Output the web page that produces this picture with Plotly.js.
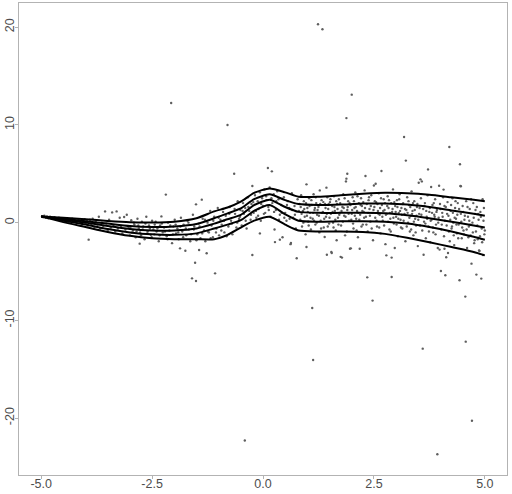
<!DOCTYPE html>
<html>
<head>
<meta charset="utf-8">
<script src="https://cdn.plot.ly/plotly-3.0.1.min.js"></script>
<style>html,body{margin:0;padding:0;background:#fff;}#chart{width:512px;height:494px;}</style>
</head>
<body>
<div id="chart"></div>
<script>
// Scatter points (x, y)
const ptX = [
-4.98,-4.95,-4.93,-4.9,-4.87,-4.84,-4.8,-4.77,-4.73,-4.7,-4.66,-4.63,-4.6,-4.56,-4.52,-4.49,-4.45,-4.42,-4.38,-4.35,-4.3,-4.27,-4.23,-4.2,-4.16,-4.12,-4.08,-4.05,-4.02,-4.0,
-3.97,-3.95,-3.93,-3.9,-3.87,-3.84,-3.8,-3.77,-3.73,-3.7,-3.67,-3.63,-3.6,-3.56,-3.53,-3.5,-3.47,-3.43,-3.4,-3.37,-3.33,-3.3,-3.27,-3.23,-3.2,-3.17,-3.13,-3.1,-3.07,-3.03,-3.0,-2.97,-2.93,-2.9,-2.87,-2.83,-2.8,-2.77,-2.73,-2.7,-2.67,-2.63,-2.6,-2.57,-2.53,-2.5,-2.47,-2.78,
-2.45,-2.42,-2.38,-2.35,-2.32,-2.29,-2.26,-2.23,-2.19,-2.17,-2.14,-2.11,-2.07,-2.05,-2.02,-1.99,-1.96,-1.93,-1.9,-1.87,-1.85,-1.82,-1.79,-1.75,-1.73,-1.7,-1.67,-1.64,-1.6,-1.58,-1.55,-1.53,-1.51,-1.51,-1.48,-1.45,-1.44,-1.41,-1.38,-1.36,-1.33,-1.3,-1.27,-1.25,-1.22,-1.19,-1.16,-1.13,-1.1,-1.08,-1.05,-1.02,-0.99,-0.96,-0.93,-0.9,-0.87,-0.84,-0.8,-0.78,-0.75,-0.72,-0.69,-0.65,-0.63,-0.6,-0.57,-0.54,-0.51,
-0.48,-0.45,-0.43,-0.41,-0.4,-0.37,-0.34,-0.31,-0.28,-0.26,-0.24,-0.24,-0.21,-0.18,-0.15,-0.12,-0.1,-0.07,-0.05,-0.02,0.0,0.03,0.05,0.08,0.11,0.12,0.15,0.17,0.2,0.21,0.24,0.26,0.29,0.32,0.35,0.38,0.41,0.44,0.47,0.5,0.53,0.56,0.59,0.62,0.65,0.68,0.71,0.74,0.76,0.78,
-0.07,0.27,0.38,0.63,0.98,
0.82,0.84,0.86,0.88,0.9,0.92,0.94,0.96,0.98,1.0,1.02,1.04,1.06,1.08,1.1,1.11,1.12,1.13,1.14,1.16,1.18,1.2,1.22,1.24,1.25,1.27,1.28,1.3,1.32,1.34,1.35,1.37,1.39,1.4,1.42,1.43,1.44,1.45,1.47,1.49,1.51,1.53,1.54,1.55,1.56,1.58,1.6,1.62,1.64,1.66,1.67,1.69,1.71,1.73,1.75,1.76,1.78,1.79,1.81,1.83,1.85,1.87,1.88,1.88,1.9,1.9,1.92,1.94,1.96,1.97,1.98,2.0,2.0,2.02,2.04,2.06,2.08,2.1,2.12,2.14,2.16,2.18,2.19,2.21,2.23,2.25,2.27,2.29,2.31,2.32,2.34,2.35,2.36,2.38,2.4,2.42,2.44,2.46,2.47,2.48,2.5,2.51,2.53,2.54,2.55,2.57,2.59,2.61,2.63,2.65,2.67,2.68,2.7,2.72,2.74,2.76,2.78,2.79,2.81,2.83,2.85,2.87,2.89,2.9,2.9,2.91,2.93,2.95,2.97,2.98,3.0,3.02,3.04,3.06,3.08,3.1,3.12,3.14,3.16,3.18,3.19,3.21,3.22,3.23,3.25,3.27,3.29,3.31,3.33,3.35,3.37,3.39,3.41,3.43,3.45,3.47,3.49,3.51,3.52,3.55,3.56,3.58,3.59,3.6,3.61,3.62,3.63,3.65,3.67,3.69,3.71,3.72,3.73,3.75,3.77,3.79,3.8,3.82,3.84,3.86,3.88,3.9,3.92,3.93,3.94,3.96,3.97,3.98,3.99,4.01,4.02,4.04,4.06,4.07,4.08,4.09,4.1,4.11,4.12,4.13,4.14,4.16,4.17,4.18,4.2,4.21,4.23,4.25,4.27,4.29,4.31,4.33,4.35,4.37,4.39,4.41,4.43,4.44,4.45,4.46,4.46,4.48,4.5,4.52,4.54,4.56,4.57,4.58,4.6,4.62,4.64,4.66,4.68,4.7,4.71,4.72,4.74,4.76,4.78,4.8,4.81,4.82,4.84,4.86,4.87,4.88,4.9,4.92,4.93,4.95,4.96,4.97,4.99
];
const ptY = [
0.62,0.55,0.7,0.5,0.63,0.45,0.6,0.52,0.38,0.55,0.42,0.3,0.5,0.36,0.25,0.45,0.18,0.35,0.1,0.28,0.4,0.05,0.2,-0.05,0.3,0.1,-0.2,0.15,0.35,-0.1,
0.2,-0.3,-1.74,0.3,-0.15,0.4,-0.45,0.1,-0.2,0.6,-0.6,0.0,-0.35,1.15,-0.1,-0.8,0.3,-0.5,1.05,-0.25,-0.9,1.15,-0.6,0.5,-0.35,-1.1,0.57,-0.7,0.8,-0.45,-1.3,0.25,-0.8,-0.2,-1.5,0.4,-0.6,-1.0,0.1,-0.4,-1.7,0.6,-0.9,-0.3,-1.25,0.2,-0.7,-2.15,
-1.2,0.1,-0.6,-1.9,-0.3,0.64,-1.0,-0.5,2.87,-1.4,0.0,-0.8,12.25,-2.1,-0.4,0.3,-1.1,-0.6,-1.7,-2.63,0.5,-0.9,-0.2,-2.87,-1.3,0.2,-0.7,-1.9,-5.7,0.8,-0.4,-4.1,1.87,-5.98,-1.2,-0.1,-2.8,-1.6,2.35,0.4,-0.8,-1.9,-3.14,0.0,-1.0,1.2,-0.3,-1.5,0.6,-5.19,-0.6,1.5,-1.3,0.3,-0.2,1.1,-1.0,0.7,9.99,-0.4,1.6,0.2,-1.2,5.0,0.9,-0.5,2.2,0.4,1.3,
-0.3,2.0,0.9,-22.3,1.5,-0.6,2.6,1.2,0.3,1.9,3.75,-3.32,1.0,2.8,0.5,2.2,1.4,3.1,0.2,2.5,1.7,3.4,1.0,2.3,5.59,1.6,3.6,0.6,5.25,2.0,2.9,-0.7,1.3,3.2,2.4,0.8,1.8,-1.5,2.6,1.0,0.2,2.2,1.5,-2.2,3.0,0.5,1.7,-0.6,-3.65,2.4,
-1.1,-1.99,-1.74,-2.09,-2.5,
1.9,0.3,2.8,-0.4,1.2,2.2,0.6,-1.2,3.92,1.5,0.1,2.5,1.0,-0.7,1.8,-8.74,0.4,-14.06,2.9,1.3,-0.2,2.0,0.8,20.3,1.6,-1.0,3.3,0.2,2.3,19.8,1.1,-0.5,-1.47,1.9,0.6,3.58,-3.28,2.6,1.4,-0.1,2.1,0.9,-3.0,-3.11,1.7,0.0,2.7,1.2,-0.8,-1.81,1.9,0.5,2.4,1.0,-3.5,-0.3,-3.58,1.6,2.9,0.7,-1.3,4.22,4.5,10.7,5.0,1.3,2.2,0.2,-2.67,1.8,-2.63,13.1,0.9,2.6,-0.6,1.5,3.1,0.4,1.2,-1.5,2.0,-2.67,0.8,2.5,1.7,-0.2,1.1,3.3,4.77,0.6,1.9,-5.6,-0.9,2.3,1.4,0.1,2.8,1.0,-7.98,-1.8,3.8,1.6,0.5,3.98,2.1,-0.4,1.2,3.0,0.8,-1.1,5.28,1.8,0.2,2.4,1.3,-2.2,-3.35,0.9,2.7,1.5,-0.7,0.4,2.0,-3.58,-5.57,1.1,3.4,-0.1,-2.6,1.7,0.6,2.3,-1.4,1.0,2.9,0.3,1.5,-0.6,2.0,8.76,0.9,-1.9,6.35,1.3,2.6,0.0,1.8,-0.9,0.7,3.2,1.2,-1.3,2.2,0.4,-0.3,1.6,-2.4,4.08,0.9,4.43,2.5,4.22,-0.8,-12.9,1.4,-3.28,0.1,2.0,-1.6,0.6,2.8,5.45,-0.4,1.1,-2.0,3.64,0.3,1.8,-1.0,0.8,2.4,-0.2,1.3,-23.7,-2.6,0.5,3.78,-2.76,1.9,-4.95,-0.7,1.0,2.6,3.38,-1.4,-2.67,0.2,-5.39,1.6,-3.55,-0.3,2.1,-3.11,0.7,7.74,-1.9,1.2,-0.6,2.5,0.0,-2.3,1.5,0.4,-1.1,2.0,-0.2,-5.9,5.97,3.75,0.9,3.72,-1.6,1.7,-0.8,0.3,-7.57,-12.18,2.2,-2.6,0.6,-0.4,1.4,-1.3,-4.2,-20.27,0.0,2.0,-2.1,0.9,-0.9,-5.32,1.6,-1.7,0.3,-2.84,-2.9,1.1,-5.73,-0.6,2.4,-3.32,0.2,-1.2
];
// Additional points inside the dense band
const bandX = [
-2.99,-2.95,-2.91,-2.85,-2.81,-2.75,-2.71,-2.65,-2.61,-2.55,-2.51,-2.44,-2.4,-2.33,-2.28,-2.21,-2.15,-2.09,-2.03,-1.97,-1.91,-1.86,-1.8,-1.74,-1.68,-1.62,-1.56,-1.5,-1.43,-1.37,-1.31,-1.24,-1.18,-1.12,-1.06,-1.0,-0.94,-0.88,-0.82,-0.76,-0.7,-0.64,-0.58,-0.52,-0.46,-0.39,-0.33,-0.27,-0.22,-0.16,-0.11,-0.04,0.02,0.07,0.13,0.19,0.25,0.3,0.36,0.42,0.48,0.54,0.6,0.66,0.72,
0.81,0.85,0.87,0.91,0.93,0.97,0.99,1.01,1.03,1.05,1.07,1.09,1.13,1.15,1.17,1.19,1.21,1.23,1.26,1.29,1.31,1.33,1.36,1.38,1.41,1.44,1.46,1.48,1.5,1.52,1.57,1.59,1.61,1.63,1.65,1.68,1.7,1.72,1.74,1.77,1.8,1.82,1.84,1.86,1.89,1.91,1.93,1.95,1.99,2.01,2.03,2.05,2.07,2.09,2.11,2.13,2.15,2.17,2.2,2.22,2.24,2.26,2.28,2.3,2.33,2.37,2.39,2.41,2.43,2.45,2.49,2.52,2.56,2.58,2.6,2.62,2.64,2.66,2.69,2.71,2.73,2.75,2.77,2.8,2.82,2.84,2.86,2.88,2.92,2.94,2.96,2.99,3.01,3.03,3.05,3.07,3.09,3.11,3.13,3.15,3.17,3.2,3.24,3.26,3.28,3.3,3.32,3.34,3.36,3.38,3.4,3.42,3.44,3.46,3.48,3.5,3.53,3.54,3.57,3.64,3.66,3.68,3.7,3.74,3.76,3.78,3.81,3.83,3.85,3.87,3.89,3.91,3.95,4.0,4.03,4.05,4.09,4.15,4.19,4.22,4.24,4.26,4.28,4.3,4.32,4.34,4.36,4.38,4.4,4.42,4.47,4.49,4.51,4.53,4.55,4.59,4.61,4.63,4.65,4.67,4.69,4.73,4.75,4.77,4.79,4.83,4.85,4.89,4.91,4.94,4.98,5.0
];
const bandY = [
-0.5,-1.0,0.0,-0.9,-0.3,-1.3,-0.7,-0.1,-1.1,-0.6,-1.5,-0.2,-0.9,-1.3,-0.1,-0.9,-1.7,-0.3,-1.2,-0.2,-1.0,-0.4,-1.5,-0.6,0.0,-1.2,-0.7,-1.8,-0.4,-1.1,0.3,-0.9,-1.6,0.2,-1.0,0.5,-0.8,0.2,-1.4,0.9,-0.1,1.4,0.0,0.6,1.2,0.2,1.6,0.8,2.1,1.2,0.7,1.9,0.9,2.7,1.3,2.5,1.1,2.2,0.3,1.0,0.5,1.8,0.4,1.3,0.8,
1.2,1.6,0.9,0.0,1.4,2.0,0.7,1.1,-0.3,1.7,0.5,2.3,1.0,0.2,1.5,2.6,0.0,1.3,0.7,1.9,-0.6,1.0,2.1,0.4,1.5,0.9,-0.4,1.9,0.5,2.4,1.1,-0.5,1.6,0.3,2.2,1.4,-0.2,0.8,2.0,1.2,0.1,1.5,2.5,0.6,-0.9,1.6,0.9,2.0,0.3,1.3,-0.1,2.2,0.7,1.6,-0.8,2.7,1.0,0.3,1.8,-0.4,1.2,2.1,0.5,1.5,-0.2,1.0,2.6,0.7,1.7,-0.6,1.3,2.2,0.2,1.9,0.9,-0.5,1.5,2.5,0.6,1.2,-0.3,2.0,0.8,1.7,0.1,2.3,1.0,-0.9,1.4,0.5,2.1,1.1,-0.2,1.6,0.4,2.4,1.2,-0.5,0.8,1.9,0.2,1.4,-0.4,1.0,2.2,0.5,1.6,-0.7,0.9,2.0,0.1,1.3,-1.0,0.7,1.9,0.3,1.5,-0.3,0.8,1.7,-0.1,1.2,0.4,-0.9,1.5,0.2,1.0,-0.5,2.0,0.6,-1.2,1.1,0.0,1.4,-0.2,0.6,1.7,0.9,-0.9,0.3,1.8,-0.4,1.0,-1.3,0.5,2.2,-0.2,0.8,-1.6,1.4,0.1,-0.5,1.1,-1.2,0.7,-0.7,1.6,-1.5,0.2,-0.2,2.4,-1.0,0.5,-1.8,1.3,-0.3,0.9,-1.4,0.6,-2.0,1.5,-0.8
];
// Quantile curves
const curveX = [-5,-4.5,-4,-3.5,-3,-2.5,-2,-1.5,-1.1,-0.8,-0.5,-0.2,0.15,0.5,0.8,1.25,1.75,2.25,2.75,3.25,3.75,4.25,4.75,5];
const q1 = [0.64,0.5,0.35,0.18,0.05,0.02,0.1,0.45,1.15,1.55,2.15,3.05,3.5,3.1,2.65,2.65,2.8,2.95,3.05,3.0,2.85,2.6,2.35,2.2];
const q2 = [0.64,0.4,0.15,-0.1,-0.35,-0.45,-0.4,-0.15,0.45,0.95,1.45,2.4,2.9,2.3,1.9,1.8,1.85,1.95,1.95,1.85,1.6,1.25,0.9,0.7];
const q3 = [0.64,0.3,0.0,-0.35,-0.65,-0.8,-0.8,-0.6,-0.1,0.35,0.8,1.8,2.35,1.6,1.1,1.0,1.0,1.0,0.95,0.75,0.45,0.1,-0.3,-0.5];
const q4 = [0.64,0.2,-0.2,-0.65,-1.0,-1.2,-1.25,-1.1,-0.6,-0.2,0.25,1.2,1.8,0.85,0.2,0.1,0.15,0.15,0.1,-0.1,-0.45,-0.9,-1.45,-1.75];
const q5 = [0.64,0.05,-0.45,-0.95,-1.35,-1.6,-1.7,-1.7,-1.7,-1.25,-0.5,0.2,0.6,-0.2,-0.8,-0.9,-0.9,-0.95,-1.15,-1.55,-2.0,-2.5,-3.0,-3.35];
const xTickVals = [-5,-2.5,0,2.5,5];
const xTickText = ["-5.0","-2.5","0.0","2.5","5.0"];
const yTickVals = [-20,-10,0,10,20];
const yTickText = ["-20","-10","0","10","20"];

const pointStyle = {size: 2.4, color: '#5e5e5e'};
const traces = [
  {x: ptX, y: ptY, type: 'scatter', mode: 'markers', marker: pointStyle, hoverinfo: 'skip', showlegend: false},
  {x: bandX, y: bandY, type: 'scatter', mode: 'markers', marker: pointStyle, hoverinfo: 'skip', showlegend: false}
];
[q1,q2,q3,q4,q5].forEach(q => traces.push({
  x: curveX, y: q, type: 'scatter', mode: 'lines',
  line: {color: '#000', width: 2, shape: 'spline', smoothing: 0.6}, showlegend: false
}));

const tickFont = {family: 'Liberation Sans, Arial, sans-serif', size: 12.5, color: '#4d4d4d'};
const layout = {
  width: 512, height: 494,
  margin: {l: 19, r: 5, t: 3, b: 19, pad: 0},
  paper_bgcolor: '#fff', plot_bgcolor: '#fff',
  showlegend: false,
  xaxis: {range: [-5.5, 5.5], showgrid: false, zeroline: false, showline: true, mirror: true,
    linecolor: '#b3b3b3', linewidth: 1, ticks: 'outside', ticklen: 3, tickcolor: '#b3b3b3', tickwidth: 1,
    tickvals: xTickVals, ticktext: xTickText, tickfont: tickFont, ticklabelstandoff: -6},
  yaxis: {range: [-25.83, 22.48], showgrid: false, zeroline: false, showline: true, mirror: true,
    linecolor: '#b3b3b3', linewidth: 1, ticks: 'outside', ticklen: 3, tickcolor: '#b3b3b3', tickwidth: 1,
    tickvals: yTickVals, ticktext: yTickText, tickangle: -90, tickfont: tickFont, ticklabelstandoff: -4}
};
Plotly.newPlot('chart', traces, layout, {staticPlot: true, displayModeBar: false});
</script>
</body>
</html>
